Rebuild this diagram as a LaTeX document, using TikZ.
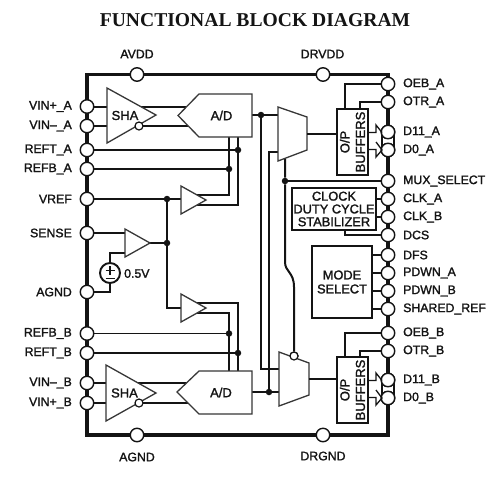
\documentclass[tikz,border=0pt]{standalone}
\usepackage{fontspec}
\setmainfont{Liberation Sans}
\newfontfamily\medf[FakeBold=1.6]{Liberation Sans}
\newfontfamily\titlef{Liberation Serif}[BoldFont={Liberation Serif Bold}]
\usetikzlibrary{calc}
\definecolor{ink}{HTML}{141414}
\tikzset{
  pinc/.style={circle,draw=ink,line width=1.4pt,fill=white,minimum size=13.5pt,inner sep=0pt},
  dotn/.style={circle,fill=ink,draw=none,minimum size=6.5pt,inner sep=0pt},
  bub/.style={circle,draw=ink,line width=1.2pt,fill=white,minimum size=8pt,inner sep=0pt},
  wire/.style={draw=ink,line width=2pt},
  thinw/.style={draw=ink,line width=1.3pt},
  part/.style={draw=ink!85,line width=1.3pt,fill=white},
  blockn/.style={draw=ink,line width=2.2pt,fill=white,inner sep=0pt,align=center,font=\medf\fontsize{12.8}{14}\selectfont,text=ink},
  txt/.style={font=\medf\fontsize{12.3}{14}\selectfont,text=ink,inner sep=0pt},
  lab/.style={txt,anchor=east},
  rab/.style={txt,anchor=west},
  parttext/.style={font=\medf\fontsize{13}{15}\selectfont,text=ink,inner sep=0pt}
}
\begin{document}
\begin{tikzpicture}[x=1pt,y=1pt]
\useasboundingbox (0,0) rectangle (500,-483);
\fill[white] (0,0) rectangle (500,-483);
\node[font=\titlef\bfseries\fontsize{19.6}{22}\selectfont,text=ink,inner sep=0pt] (title) at (255,-20) {FUNCTIONAL BLOCK DIAGRAM};
% package outline
\node[draw=ink,line width=3.2pt,minimum width=301pt,minimum height=360.5pt,inner sep=0pt] (pkg) at (237.5,-254.75) {};
% pins
\foreach \n/\x/\y in {avdd/137/74.5,drvdd/323/74.5,agndb/137/435,drgnd/323/435,
  vinpa/87/106.5,vinma/87/126,refta/87/150,refba/87/169,vref/87/199,sense/87/233,agnd/87/292,
  refbb/87/333.5,reftb/87/353,vinmb/87/383,vinpb/87/403,
  oeba/388/84,otra/388/102,dea/388/132,dza/388/150,mux/388/181,clka/388/199,clkb/388/217,dcs/388/235,
  dfs/388/255,pda/388/273,pdb/388/291,shr/388/309,oebb/388/333,otrb/388/351,deb/388/380,dzb/388/398}
  {\node[pinc] (\n) at (\x,-\y) {};}
% gaps and bus lines between data pins
\fill[white] (385,-133) rectangle (391,-149);
\fill[white] (385,-381) rectangle (391,-397);
\draw[thinw] (382,-132) -- (382,-150) (394,-132) -- (394,-150);
\draw[thinw] (382,-380) -- (382,-398) (394,-380) -- (394,-398);
\foreach \n in {dea,dza,deb,dzb}{\node[pinc] at (\n) {};}
% labels
\foreach \n/\t in {vinpa/VIN+\_A,vinma/VIN–\_A,refta/REFT\_A,refba/REFB\_A,vref/VREF,sense/SENSE,agnd/AGND,
  refbb/REFB\_B,reftb/REFT\_B,vinmb/VIN–\_B,vinpb/VIN+\_B}
  {\node[lab] (l\n) at ($(\n)+(-15,0)$) {\t};}
\foreach \n/\t in {oeba/OEB\_A,otra/OTR\_A,dea/D11\_A,dza/D0\_A,mux/MUX\_SELECT,clka/CLK\_A,clkb/CLK\_B,dcs/DCS,
  dfs/DFS,pda/PDWN\_A,pdb/PDWN\_B,shr/SHARED\_REF,oebb/OEB\_B,otrb/OTR\_B,deb/D11\_B,dzb/D0\_B}
  {\node[rab] (l\n) at ($(\n)+(15,0)$) {\t};}
\node[txt] (lavdd) at (137,-54) {AVDD};
\node[txt] (ldrvdd) at (322.5,-54) {DRVDD};
\node[txt] (lagndb) at (137,-457) {AGND};
\node[txt] (ldrgnd) at (323,-456) {DRGND};
% named ports
\coordinate (ampAtip) at (206,-200);
\coordinate (ampBtip) at (206,-308);
\coordinate (ampStip) at (150,-243);
\coordinate (ampAin) at (181,-199);
\coordinate (ampBin) at (181,-308);
% dots
\node[dotn] (d1) at (261,-115) {};
\node[dotn] (d2) at (269,-392) {};
\node[dotn] (d3) at (285,-181) {};
\node[dotn] (d4) at (238,-150) {};
\node[dotn] (d5) at (229,-169) {};
\node[dotn] (d6) at (229,-333.5) {};
\node[dotn] (d7) at (238,-353) {};
\node[dotn] (d8) at (167,-199) {};
\node[dotn] (d9) at (167,-243) {};
% wires: inputs
\draw[wire] (vinpa) -- (199,-106.5);
\draw[wire] (vinma) -- (199,-126);
\draw[wire] (vinmb) -- (199,-383);
\draw[wire] (vinpb) -- (199,-403);
\draw[wire] (refta) -- (d4);
\draw[wire] (refba) -- (d5);
\draw[thinw] (refbb) -- (d6);
\draw[wire] (reftb) -- (d7);
\draw[thinw] (vref) -- (ampAin);
\draw[wire] (d8) -- (d9) |- (ampBin);
\draw[wire] (sense) -- (125,-233);
\draw[wire] (ampStip) -- (d9);
% reference amps to A/D
\draw[wire] (190,-195) -| (229,-137);
\draw[wire] (190,-205) -| (238,-137);
\draw[wire] (190,-303) -| (238,-371);
\draw[wire] (190,-313) -| (229,-371);
% source
\node[circle,draw=ink,line width=1.9pt,fill=white,minimum size=20pt,inner sep=0pt] (src) at (110,-273) {};
\draw[wire] (src) -- (110,-253) -- (125,-253);
\draw[wire] (src) -- (110,-292) -- (agnd);
\draw[line width=1.8pt,ink] (105.5,-270.5) -- (114.5,-270.5) (110,-266) -- (110,-275) (105.5,-278.5) -- (114.5,-278.5);
\node[txt,anchor=west] (v05) at (124,-273.5) {0.5V};
% A/D outputs and mux wiring
\draw[wire] (252,-115) -- (278,-115);
\draw[wire] (d1) |- (280,-369);
\draw[wire] (252,-392) -- (280,-392);
\draw[wire] (d2) -- (269,-152) -- (278,-152);
\draw[wire] (mux) -- (d3);
\node[bub] (msel) at (294,-356) {};
\draw[wire] (285,-159) -- (d3) -- (285,-262) .. controls (285,-272) and (294,-272) .. (294,-287) -- (msel);
% A/D blocks and amplifiers
\draw[part] (178,-115.5) -- (199,-94) -- (252,-94) -- (252,-137) -- (199,-137) -- cycle;
\draw[part] (177,-392) -- (199,-371) -- (252,-371) -- (252,-414) -- (199,-414) -- cycle;
\draw[part] (107,-88) -- (156,-115) -- (107,-143) -- cycle;
\draw[part] (106,-365) -- (156,-393) -- (106,-421) -- cycle;
\draw[part] (181,-186) -- (ampAtip) -- (181,-214) -- cycle;
\draw[part] (181,-294) -- (ampBtip) -- (181,-322) -- cycle;
\draw[part] (125,-229) -- (ampStip) -- (125,-257) -- cycle;
\node[bub] (bA) at (139,-126) {};
\node[bub] (bB) at (139,-403) {};
\node[parttext] (shaA) at (125,-115.5) {SHA};
\node[parttext] (shaB) at (124.5,-393) {SHA};
\node[parttext] (adA) at (221.5,-115.5) {A/D};
\node[parttext] (adB) at (221,-392.5) {A/D};
% muxes
\draw[part] (278,-107) -- (307,-117) -- (307,-150) -- (278,-161) -- cycle;
\draw[part] (279,-352) -- (309,-363) -- (309,-395) -- (279,-406) -- cycle;
\node[bub] at (msel) {};
% buffers
\node[blockn,minimum width=31pt,minimum height=66pt] (bufA) at (352.5,-142) {};
\node[blockn,minimum width=31pt,minimum height=66pt] (bufB) at (352.5,-390) {};
\node[rotate=90,align=center,font=\medf\fontsize{13}{15.5}\selectfont,text=ink,inner sep=0pt] (tA) at (352.5,-142) {O/P\\BUFFERS};
\node[rotate=90,align=center,font=\medf\fontsize{13}{15.5}\selectfont,text=ink,inner sep=0pt] (tB) at (352.5,-390) {O/P\\BUFFERS};
\draw[wire] (307,-134) -- (bufA.west |- 0,-134);
\draw[wire] (309,-379) -- (bufB.west |- 0,-379);
\draw[wire] (oeba) -- (345,-84) -- (345,-109);
\draw[wire] (otra) -- (360,-102) -- (360,-109);
\draw[wire] (oebb) -- (345,-333) -- (345,-357);
\draw[wire] (otrb) -- (360,-351) -- (360,-357);
% bus arrows
\draw[thinw,line join=miter] (368,-132.5) -- (376,-132.5) -- (376,-125) -- (382,-132.5);
\draw[thinw,line join=miter] (368,-149.5) -- (376,-149.5) -- (376,-157) -- (382,-150) -- (376,-142);
\draw[thinw,line join=miter] (368,-380.5) -- (376,-380.5) -- (376,-373) -- (382,-380.5);
\draw[thinw,line join=miter] (368,-397.5) -- (376,-397.5) -- (376,-405) -- (382,-398) -- (376,-390);
% clock and mode
\node[blockn,minimum width=84pt,minimum height=42pt,font=\medf\fontsize{12.8}{12.8}\selectfont] (clk) at (334,-209) {CLOCK\\DUTY CYCLE\\STABILIZER};
\node[blockn,minimum width=60pt,minimum height=72pt] (mode) at (342,-282) {MODE\\SELECT};
\draw[wire] (clk.east |- clka) -- (clka);
\draw[wire] (clk.east |- clkb) -- (clkb);
\draw[wire] (dcs) -- (345,-235) -- (345,-230);
\draw[wire] (mode.east |- dfs) -- (dfs);
\draw[wire] (mode.east |- pda) -- (pda);
\draw[wire] (mode.east |- pdb) -- (pdb);
\draw[wire] (mode.east |- shr) -- (shr);
\end{tikzpicture}
\end{document}
